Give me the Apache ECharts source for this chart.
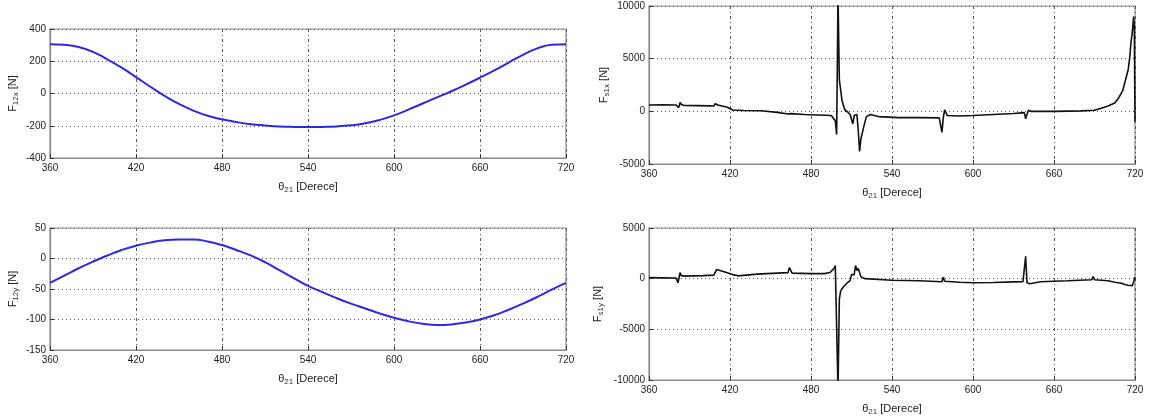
<!DOCTYPE html>
<html><head><meta charset="utf-8">
<script src="https://cdn.jsdelivr.net/npm/echarts@6/dist/echarts.min.js"></script>
<style>html,body{margin:0;padding:0;background:#fff}#c{width:1150px;height:417px}</style>
</head><body><div id="c"></div>
<script>
// ---- data ----
const xTicks = [360, 420, 480, 540, 600, 660, 720];
// top-left: F12x [N]
const thetaA = [360,370,380,390,400,410,420,430,440,450,460,470,480,490,500,510,520,530,540,550,560,570,580,590,600,610,620,630,640,650,660,670,680,690,700,710,720];
const f12x  = [306,302,288,258,212,160,102,42,-15,-65,-106,-138,-160,-177,-190,-198,-204,-207,-208,-207,-204,-197,-185,-164,-136,-100,-62,-24,14,55,98,143,192,240,280,302,306];
// bottom-left: F12y [N]
const f12y  = [-40,-28,-16,-5,5,14,21,26,30,31,31,28,22,14,5,-6,-19,-32,-45,-55,-65,-74,-82,-90,-97,-103,-107,-109,-108,-105,-100,-93,-84,-74,-63,-51,-40];
// top-right: F_s1x [N]
const thetaC = [360,370,380,382,383,384,386,395,405,408,409,411,418,422,430,443,455,463,464,465,475,485,495,498,499,500,500.5,501,503,505,507,509,511,512,514,515,516,517,519,521,524,530,545,560,575,576,577,578,579,581,590,600,615,630,638,639,640,641,643,660,680,690,695,700,705,708,711,713,715,716,717,718,719,719.5,720];
const fs1x  = [600,610,600,350,850,650,560,540,520,500,720,600,380,120,80,60,-100,-250,-420,-220,-300,-350,-400,-900,-2200,11000,11000,3000,1000,150,-50,-300,-1200,-400,-300,-1800,-3800,-2600,-1500,-500,-300,-500,-600,-600,-620,-1300,-2000,-600,150,-400,-450,-400,-300,-200,-120,-700,-300,100,0,0,40,100,300,500,800,1300,2000,3000,4000,5000,6500,7500,9000,8000,-1000];
// bottom-right: F_s1y [N]
const thetaD = [360,370,380,381.5,383,384,386,400,408,409,410,415,422,426,440,455,463,464,466,480,490,494,497,498,499,500,500.5,501,502,504,507,509,510,511,512,513,514,515,517,520,540,560,577,578,579,590,600,615,630,637,638,639,640,642,650,670,688,689,690,700,705,710,713,715,716,718,719,720];
const fs1y  = [100,80,60,-400,600,300,250,300,350,400,900,700,400,280,450,550,600,1100,550,500,500,600,1000,1300,1200,-11000,-11000,-2000,-1200,-800,-400,-200,400,300,400,1300,800,1000,200,0,-150,-200,-300,150,-250,-350,-400,-380,-320,-300,-300,2200,-400,-500,-300,-200,-100,200,-100,-200,-350,-450,-600,-650,-500,-700,-300,150];

// ---- chart ----
const el = document.getElementById('c');
const chart = echarts.init(el, null, {renderer: 'canvas'});
const FONT = 'Liberation Sans Narrow, Liberation Sans, Arial, sans-serif';
const gridsPos = [
  {left: 50, top: 29, width: 516, height: 129},
  {left: 50, top: 228, width: 516, height: 122},
  {left: 649, top: 6, width: 486, height: 158},
  {left: 649, top: 228, width: 486, height: 159}
];
const yCfg = [
  {min: -400, max: 400, interval: 200, name: 'F{s|12x} [N]', gap: 30},
  {min: -150, max: 50, interval: 50, name: 'F{s|12y} [N]', gap: 30},
  {min: -5000, max: 10000, interval: 5000, name: 'F{s|s1x} [N]', gap: 38},
  {min: -10000, max: 5000, interval: 5000, name: 'F{s|s1y} [N]', gap: 44}
];
const rich = {
  s: {fontSize: 8, fontFamily: FONT, color: '#333', verticalAlign: 'bottom', padding: [6, 0, 0, 0]}
};
const grid = gridsPos.map(g => Object.assign({show: true, borderColor: '#8a8a8a', borderWidth: 1.2, containLabel: false}, g));
const xAxis = gridsPos.map((g, i) => ({
  type: 'value', gridIndex: i, min: 360, max: 720, interval: 60,
  name: 'θ{s|21} [Derece]', nameLocation: 'middle', nameGap: 22,
  nameTextStyle: {fontSize: 11, fontFamily: FONT, color: '#222', rich},
  axisLine: {show: true, onZero: false, lineStyle: {color: '#8a8a8a', width: 1.2}},
  axisTick: {show: true, inside: true, length: 4, lineStyle: {color: '#333'}},
  axisLabel: {fontSize: 10, fontFamily: FONT, color: '#222', margin: 5, formatter: v => String(v)},
  splitLine: {show: true, lineStyle: {color: '#555', width: 1, type: [3, 3, 1, 3]}}
}));
const yAxis = yCfg.map((c, i) => ({
  type: 'value', gridIndex: i, min: c.min, max: c.max, interval: c.interval,
  name: c.name, nameLocation: 'middle', nameGap: c.gap, nameRotate: 90,
  nameTextStyle: {fontSize: 11, fontFamily: FONT, color: '#222', rich},
  axisLine: {show: true, onZero: false, lineStyle: {color: '#8a8a8a', width: 1.2}},
  axisTick: {show: true, inside: true, length: 4, lineStyle: {color: '#333'}},
  axisLabel: {fontSize: 10, fontFamily: FONT, color: '#222', margin: 4, formatter: v => String(v)},
  splitLine: {show: true, lineStyle: {color: '#555', width: 1, type: [1, 3]}}
}));
const pairs = (xs, ys) => xs.map((x, k) => [x, ys[k]]);
const series = [
  {type: 'line', xAxisIndex: 0, yAxisIndex: 0, data: pairs(thetaA, f12x), smooth: true, showSymbol: false, lineStyle: {color: '#2a2ae6', width: 2}},
  {type: 'line', xAxisIndex: 1, yAxisIndex: 1, data: pairs(thetaA, f12y), smooth: true, showSymbol: false, lineStyle: {color: '#2a2ae6', width: 2}},
  {type: 'line', xAxisIndex: 2, yAxisIndex: 2, data: pairs(thetaC, fs1x), showSymbol: false, clip: true, lineStyle: {color: '#111', width: 1.6}},
  {type: 'line', xAxisIndex: 3, yAxisIndex: 3, data: pairs(thetaD, fs1y), showSymbol: false, clip: true, lineStyle: {color: '#111', width: 1.6}}
];
chart.setOption({animation: false, backgroundColor: '#fff', grid, xAxis, yAxis, series});
</script>
</body></html>
